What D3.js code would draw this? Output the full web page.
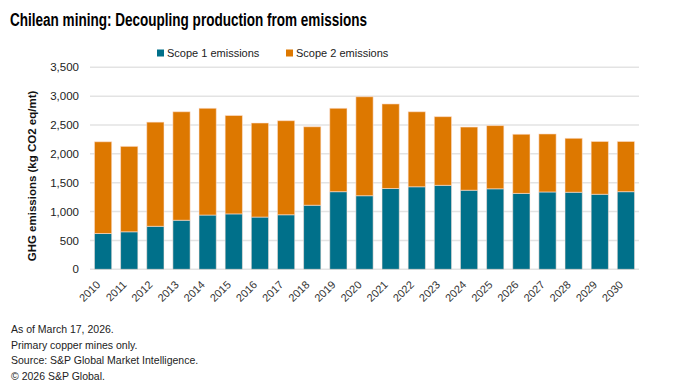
<!DOCTYPE html>
<html><head><meta charset="utf-8">
<script src="https://cdn.jsdelivr.net/npm/d3@7"></script>
<style>
body{margin:0;background:#fff;}
svg{display:block;}
</style></head>
<body><svg id="c" width="674" height="391"></svg>
<script>
const years = ["2010","2011","2012","2013","2014","2015","2016","2017","2018","2019","2020","2021","2022","2023","2024","2025","2026","2027","2028","2029","2030"];
const scope1 = [620,650,745,850,940,960,905,945,1110,1345,1275,1400,1430,1455,1370,1395,1315,1340,1335,1300,1345];
const scope2 = [1590,1480,1805,1880,1850,1705,1630,1630,1360,1445,1715,1465,1300,1190,1095,1095,1025,1005,935,915,870];
const yTicks = [0,500,1000,1500,2000,2500,3000,3500];
const seriesNames = ["Scope 1 emissions","Scope 2 emissions"];
const colors = ["#00708a","#dd7800"];
const notes = ["As of March 17, 2026.","Primary copper mines only.","Source: S&P Global Market Intelligence.","\u00a9 2026 S&P Global."];

const svg = d3.select("#c");
const font = "'Liberation Sans', Arial, sans-serif";
const m = {l:90, r:35, t:67, b:122};
const W = 674, H = 391;
const x = d3.scaleBand().domain(years).range([m.l, W-m.r]).paddingInner(0.34).paddingOuter(0.17);
const y = d3.scaleLinear().domain([0,3500]).range([269.3, 67.3]);

svg.append("text").attr("x",10).attr("y",26)
  .attr("font-family","'Liberation Sans',Arial,sans-serif")
  .attr("font-size",18).attr("font-weight","bold").attr("fill","#000")
  .attr("textLength",357).attr("lengthAdjust","spacingAndGlyphs")
  .text("Chilean mining: Decoupling production from emissions");

// grid
svg.append("g").selectAll("line").data(yTicks).join("line")
  .attr("x1",m.l).attr("x2",W-m.r).attr("y1",d=>y(d)).attr("y2",d=>y(d))
  .attr("stroke","#e3e3e3").attr("stroke-width",1.5);

// y axis labels
const yAxis = d3.axisLeft(y).tickValues(yTicks).tickFormat(d3.format(",")).tickSize(0).tickPadding(11);
const ga = svg.append("g").attr("transform",`translate(${m.l},0)`).call(yAxis);
ga.select(".domain").remove();
ga.selectAll("text").attr("font-family",font).attr("font-size",11.5).attr("fill","#222");

// stacked bars
const data = years.map((yr,i)=>({year:yr, s1:scope1[i], s2:scope2[i]}));
const stack = d3.stack().keys(["s1","s2"])(data);
svg.append("g").selectAll("g").data(stack).join("g")
  .attr("fill",(d,i)=>colors[i])
  .selectAll("rect").data(d=>d).join("rect")
  .attr("x",d=>x(d.data.year)).attr("width",x.bandwidth())
  .attr("y",d=>y(d[1])).attr("height",d=>y(d[0])-y(d[1]))
  .attr("stroke","rgba(255,230,220,0.55)").attr("stroke-width",1);

// x labels
const xAxis = d3.axisBottom(x).tickSize(0).tickPadding(0);
const gx = svg.append("g").attr("transform",`translate(0,${y(0)})`).call(xAxis);
gx.select(".domain").remove();
gx.selectAll("text").attr("font-family",font).attr("font-size",11).attr("fill","#333")
  .attr("text-anchor","end").attr("dy",null).attr("y",0)
  .attr("transform","translate(-2,16) rotate(-45)");

// y title
svg.append("text").attr("transform",`translate(36,${(92+260)/2}) rotate(-90)`)
  .attr("text-anchor","middle").attr("font-family",font).attr("font-size",11.5)
  .attr("font-weight","bold").attr("fill","#111")
  .text("GHG emissions (kg CO2 eq/mt)");

// legend
const lg = svg.append("g");
const lx = [157, 286];
seriesNames.forEach((n,i)=>{
  lg.append("rect").attr("x",lx[i]).attr("y",49.5).attr("width",7).attr("height",7).attr("fill",colors[i]);
  lg.append("text").attr("x",lx[i]+10).attr("y",57).attr("font-family",font).attr("font-size",11)
    .attr("fill","#222").text(n);
});

// notes
svg.append("g").selectAll("text").data(notes).join("text")
  .attr("x",11).attr("y",(d,i)=>333+i*15.5)
  .attr("font-family",font).attr("font-size",10.5).attr("fill","#222").text(d=>d);
</script></body></html>
